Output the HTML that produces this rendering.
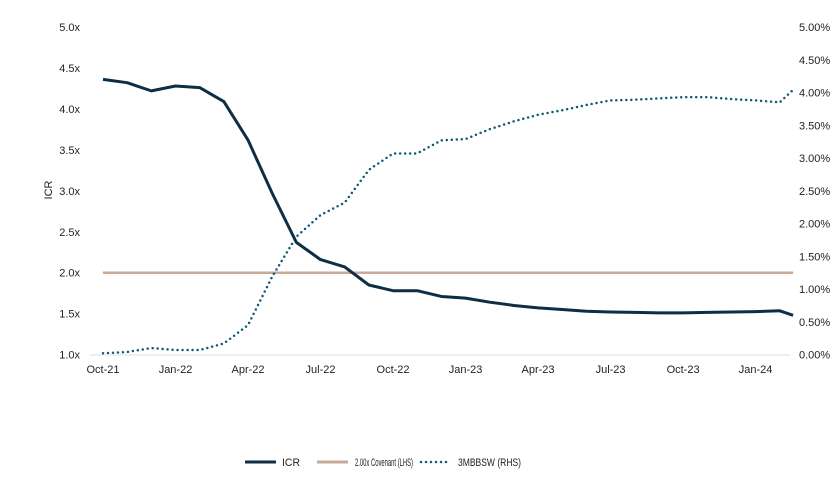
<!DOCTYPE html>
<html><head><meta charset="utf-8"><style>
body{margin:0;background:#fff;font-family:"Liberation Sans",sans-serif;}
svg text{font-family:"Liberation Sans",sans-serif;font-size:11px;fill:#222;}
</style></head><body>
<svg id="chart" width="833" height="483" viewBox="0 0 833 483" xmlns="http://www.w3.org/2000/svg"></svg>
<script>
const xTickLabels=["Oct-21","Jan-22","Apr-22","Jul-22","Oct-22","Jan-23","Apr-23","Jul-23","Oct-23","Jan-24"];
const leftTicks=[1.0,1.5,2.0,2.5,3.0,3.5,4.0,4.5,5.0];
const rightTicks=[0,0.5,1,1.5,2,2.5,3,3.5,4,4.5,5];
const monthIdx=[0,1,2,3,4,5,6,7,8,9,10,11,12,13,14,15,16,17,18,19,20,21,22,23,24,25,26,27,28,28.55];
const icr=[4.36,4.32,4.22,4.28,4.26,4.09,3.62,2.97,2.37,2.16,2.07,1.85,1.78,1.78,1.71,1.69,1.64,1.60,1.57,1.55,1.53,1.52,1.515,1.51,1.51,1.515,1.52,1.525,1.535,1.48];
const bbsw=[0.02,0.04,0.1,0.07,0.07,0.17,0.45,1.19,1.80,2.13,2.32,2.82,3.07,3.07,3.27,3.29,3.44,3.56,3.66,3.73,3.81,3.88,3.89,3.91,3.93,3.93,3.90,3.88,3.85,4.04];
const covenant=2.0;
const NS="http://www.w3.org/2000/svg";
const svg=document.getElementById('chart');
const X=m=>103+m*24.17;
const YL=v=>354.6-(v-1)*81.9;
const YR=v=>354.6-v*65.52;
function mk(t,a){const e=document.createElementNS(NS,t);for(const k in a)e.setAttribute(k,a[k]);svg.appendChild(e);return e;}
let e=mk('line',{x1:90,x2:790,y1:355,y2:355,stroke:'#d9dde0','stroke-width':1});


leftTicks.forEach(v=>{const t=mk('text',{x:80,y:YL(v)+4,'text-anchor':'end'});t.textContent=v.toFixed(1)+'x';

});
rightTicks.forEach(v=>{const t=mk('text',{x:799,y:YR(v)+4});t.textContent=v.toFixed(2)+'%';

});
xTickLabels.forEach((l,i)=>{const t=mk('text',{x:X(i*3),y:373,'text-anchor':'middle'});t.textContent=l;

});
e=mk('text',{x:0,y:0,transform:'translate(52,190) rotate(-90)','text-anchor':'middle'});e.textContent='ICR';


e=mk('line',{x1:X(0),x2:X(28.55),y1:YL(covenant),y2:YL(covenant),stroke:'#c8aa98','stroke-width':2.5});


e=mk('polyline',{points:monthIdx.map((m,i)=>X(m)+','+YR(bbsw[i])).join(' '),fill:'none',stroke:'#0f5a78','stroke-width':2.5,'stroke-dasharray':'0 5','stroke-linecap':'round'});


e=mk('polyline',{points:monthIdx.map((m,i)=>X(m)+','+YL(icr[i])).join(' '),fill:'none',stroke:'#0d2e45','stroke-width':3,'stroke-linejoin':'round'});


// legend
e=mk('line',{x1:245,x2:276,y1:462,y2:462,stroke:'#0d2e45','stroke-width':3});


e=mk('text',{x:282,y:466,textLength:18,lengthAdjust:'spacingAndGlyphs'});e.textContent='ICR';


e=mk('line',{x1:317,x2:348,y1:462,y2:462,stroke:'#c8aa98','stroke-width':3});


e=mk('text',{x:355,y:466,textLength:58,lengthAdjust:'spacingAndGlyphs'});e.textContent='2.00x Covenant (LHS)';


e=mk('line',{x1:421,x2:451,y1:462,y2:462,stroke:'#0f5a78','stroke-width':2.5,'stroke-dasharray':'0 5','stroke-linecap':'round'});


e=mk('text',{x:458,y:466,textLength:63,lengthAdjust:'spacingAndGlyphs'});e.textContent='3MBBSW (RHS)';


</script>
</body></html>
